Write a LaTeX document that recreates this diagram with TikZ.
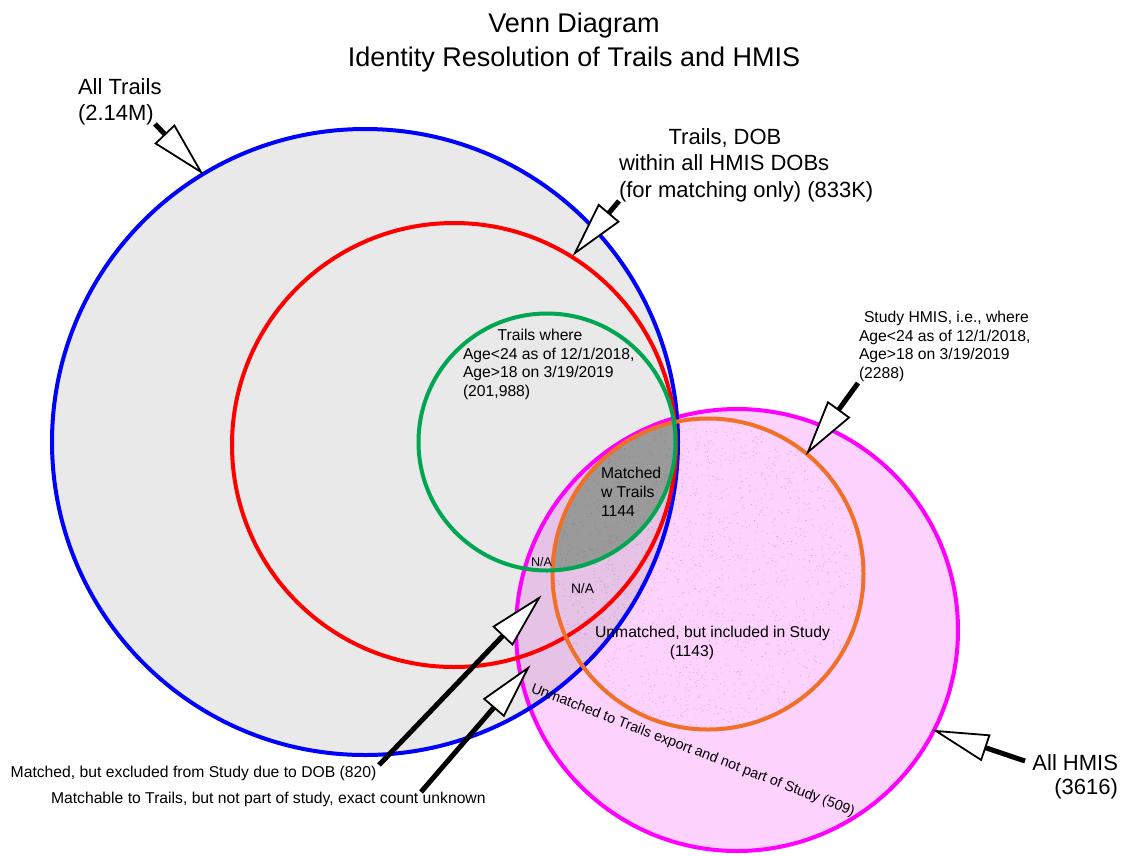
\documentclass[tikz,border=0pt]{standalone}
\usepackage{fontspec}
\setmainfont{Liberation Sans}
\usetikzlibrary{calc}
\definecolor{graybg}{HTML}{E9E9E9}
\definecolor{pinkbg}{HTML}{FDD2FD}
\definecolor{mauvebg}{HTML}{E6C3E6}
\definecolor{darkbg}{HTML}{9A9A9A}
\definecolor{cblue}{HTML}{0000FF}
\definecolor{cred}{HTML}{FF0000}
\definecolor{cgreen}{HTML}{00A651}
\definecolor{cmag}{HTML}{FF00FF}
\definecolor{corange}{HTML}{F07028}
\definecolor{speckcol}{HTML}{5A3A5A}
\tikzset{
  lbl/.style={inner sep=0pt, outer sep=0pt, text=black},
  ttl/.style={lbl, font=\fontsize{27}{34}\selectfont},
  big/.style={lbl, font=\fontsize{22}{26}\selectfont},
  med/.style={lbl, font=\fontsize{15.7}{18.7}\selectfont},
  ring/.style={line width=4pt},
  shaft/.style={line width=5pt, draw=black},
  head/.style={draw=black, fill=white, line width=1.8pt, line join=miter},
  speck/.style={fill=speckcol, fill opacity=0.3},
}
\newcommand\hollowarrow[2]{%
  \coordinate (#2-b) at ($(#2)!52pt!(#1)$);
  \draw[shaft] (#1) -- (#2-b);
  \draw[head] (#2) -- ($(#2-b)!13pt!90:(#2)$) -- ($(#2-b)!13pt!-90:(#2)$) -- cycle;}
\begin{document}
\begin{tikzpicture}[x=1pt,y=-1pt]
\useasboundingbox (0,0) rectangle (1132,855);
\coordinate (bc) at (365,442);
\coordinate (rc) at (454,445);
\coordinate (gc) at (547,442);
\coordinate (mc) at (737,630);
\coordinate (oc) at (708,574);
% fills
\fill[graybg] (bc) circle (313pt);
\fill[pinkbg] (mc) circle (221pt);
\begin{scope}
  \clip (bc) circle (313pt);
  \fill[mauvebg] (mc) circle (221pt);
\end{scope}
\begin{scope}
  \clip (gc) circle (128.5pt);
  \fill[darkbg] (oc) circle (155.5pt);
\end{scope}
\pgfmathsetseed{7}
\begin{scope}
  \clip (oc) circle (155.5pt);
  \foreach \i in {1,...,2200}{
    \pgfmathsetmacro\ang{360*rnd}
    \pgfmathsetmacro\rad{156*sqrt(rnd)}
    \fill[speck] ($(oc)+(\ang:\rad pt)$) circle (0.45pt);
  }
\end{scope}
% rings
\draw[ring, cmag] (mc) circle (221pt);
\draw[ring, cblue] (bc) circle (313pt);
\draw[ring, cred] (rc) circle (222pt);
\draw[ring, corange] (oc) circle (155.5pt);
\draw[ring, cgreen] (gc) circle (128.5pt);
% title
\node[ttl, anchor=base] (t1) at (574,32) {Venn Diagram};
\node[ttl, anchor=base] (t2) at (574,66) {Identity Resolution of Trails and HMIS};
% outer labels
\node[big, anchor=base west] (at1) at (78,94) {All Trails};
\node[big, anchor=base west] (at2) at (78,120) {(2.14M)};
\node[big, anchor=base] (td1) at (725,144) {Trails, DOB};
\node[big, anchor=base west] (td2) at (619,170.5) {within all HMIS DOBs};
\node[big, anchor=base west] (td3) at (619,197) {(for matching only) (833K)};
\node[big, anchor=base east] (ah1) at (1118,770) {All HMIS};
\node[big, anchor=base east] (ah2) at (1118,794) {(3616)};
% study HMIS label
\node[med, anchor=base west] (sh1) at (864,322.5) {Study HMIS, i.e., where};
\node[med, anchor=base west] (sh2) at (859,341) {Age<24 as of 12/1/2018,};
\node[med, anchor=base west] (sh3) at (859,359.5) {Age>18 on 3/19/2019};
\node[med, anchor=base west] (sh4) at (859,378) {(2288)};
% trails where
\node[med, anchor=base] (tw1) at (540,340) {Trails where};
\node[med, anchor=base west] (tw2) at (463,359) {Age<24 as of 12/1/2018,};
\node[med, anchor=base west] (tw3) at (463,377.5) {Age>18 on 3/19/2019};
\node[med, anchor=base west] (tw4) at (463,396) {(201,988)};
% matched
\node[med, anchor=base west] (mw1) at (601,478) {Matched};
\node[med, anchor=base west] (mw2) at (601,497.5) {w Trails};
\node[med, anchor=base west] (mw3) at (601,516.5) {1144};
% N/A
\node[lbl, font=\fontsize{12.6}{15}\selectfont, anchor=base west] (na1) at (531,566) {N/A};
\node[lbl, font=\fontsize{13.8}{16}\selectfont, anchor=base west] (na2) at (571,593) {N/A};
% unmatched
\node[med, anchor=base] (um1) at (712.5,637.5) {Unmatched, but included in Study};
\node[med, anchor=base] (um2) at (692,656) {(1143)};
\node[lbl, font=\fontsize{14.3}{17}\selectfont, anchor=base, rotate=-21] (un) at (691.5,754) {Unmatched to Trails export and not part of Study (509)};
% bottom labels
\node[med, anchor=base west] (bl1) at (10.7,777) {Matched, but excluded from Study due to DOB (820)};
\node[med, anchor=base west] (bl2) at (51,803) {Matchable to Trails, but not part of study, exact count unknown};
% arrows
\coordinate (a1t) at (155,124); \coordinate (a1h) at (201,172);
\coordinate (a2t) at (619,201); \coordinate (a2h) at (575,253);
\coordinate (a3t) at (858,383); \coordinate (a3h) at (808,452);
\coordinate (a4t) at (1025,761); \coordinate (a4h) at (936,731);
\coordinate (a5t) at (379,765); \coordinate (a5h) at (539,598);
\coordinate (a6t) at (421,792); \coordinate (a6h) at (528,668);
\hollowarrow{a1t}{a1h}
\hollowarrow{a2t}{a2h}
\hollowarrow{a3t}{a3h}
\hollowarrow{a4t}{a4h}
\hollowarrow{a5t}{a5h}
\hollowarrow{a6t}{a6h}
\end{tikzpicture}
\end{document}
